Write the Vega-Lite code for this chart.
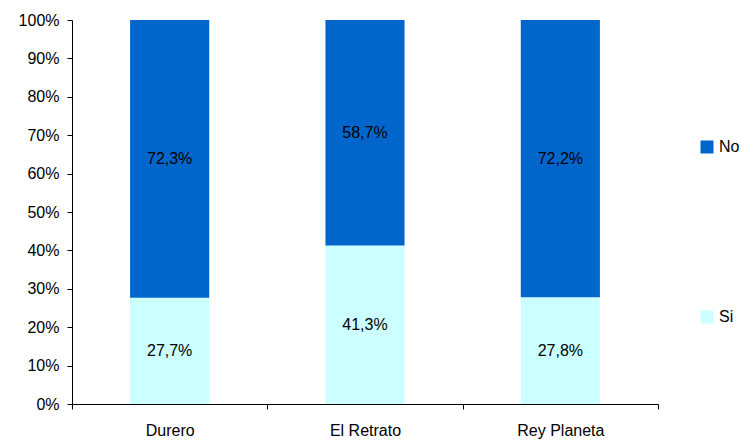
{
  "$schema": "https://vega.github.io/schema/vega-lite/v6.json",
  "width": 586,
  "height": 384,
  "autosize": "none",
  "padding": {"left": 72, "top": 20, "right": 81, "bottom": 39},
  "background": "white",
  "config": {
    "view": {"stroke": null},
    "font": "Liberation Sans",
    "locale": {
      "number": {"decimal": ",", "thousands": ".", "grouping": [3], "currency": ["", " €"]}
    }
  },
  "data": {
    "values": [
      {"obra": "Durero", "resp": "Si", "v": 0.277},
      {"obra": "Durero", "resp": "No", "v": 0.723},
      {"obra": "El Retrato", "resp": "Si", "v": 0.413},
      {"obra": "El Retrato", "resp": "No", "v": 0.587},
      {"obra": "Rey Planeta", "resp": "Si", "v": 0.278},
      {"obra": "Rey Planeta", "resp": "No", "v": 0.722}
    ]
  },
  "encoding": {
    "x": {
      "field": "obra",
      "type": "nominal",
      "sort": ["Durero", "El Retrato", "Rey Planeta"],
      "scale": {"paddingInner": 0, "paddingOuter": 0},
      "axis": {
        "title": null,
        "labelAngle": 0,
        "tickBand": "extent",
        "domainColor": "black",
        "tickColor": "black",
        "tickSize": 5,
        "labelFontSize": 16,
        "labelColor": "black",
        "labelPadding": 13
      }
    }
  },
  "layer": [
    {
      "mark": {"type": "bar", "width": {"band": 0.405}},
      "encoding": {
        "y": {
          "field": "v",
          "type": "quantitative",
          "stack": "zero",
          "scale": {"domain": [0, 1]},
          "axis": {
            "title": null,
            "format": ".0%",
            "values": [0, 0.1, 0.2, 0.3, 0.4, 0.5, 0.6, 0.7, 0.8, 0.9, 1],
            "labelOverlap": false,
            "grid": false,
            "domainColor": "black",
            "tickColor": "black",
            "tickSize": 5,
            "labelFontSize": 16,
            "labelColor": "black",
            "labelPadding": 8
          }
        },
        "color": {
          "field": "resp",
          "type": "nominal",
          "scale": {"domain": ["No", "Si"], "range": ["#0066CC", "#CCFFFF"]},
          "legend": {
            "title": null,
            "orient": "none",
            "legendX": 627,
            "legendY": 119,
            "padding": 0,
            "symbolType": "square",
            "symbolSize": 169,
            "symbolStrokeWidth": 0,
            "labelFontSize": 16,
            "labelColor": "black",
            "labelOffset": 4,
            "rowPadding": 154
          }
        },
        "order": {"field": "resp", "sort": "descending"}
      }
    },
    {
      "transform": [
        {"stack": "v", "groupby": ["obra"], "sort": [{"field": "resp", "order": "descending"}], "as": ["y0", "y1"]},
        {"calculate": "(datum.y0 + datum.y1) / 2", "as": "mid"}
      ],
      "mark": {"type": "text", "fontSize": 16, "color": "black", "baseline": "middle", "align": "center"},
      "encoding": {
        "y": {
          "field": "mid",
          "type": "quantitative",
          "axis": {
            "title": null,
            "format": ".0%",
            "values": [0, 0.1, 0.2, 0.3, 0.4, 0.5, 0.6, 0.7, 0.8, 0.9, 1],
            "labelOverlap": false,
            "grid": false,
            "domainColor": "black",
            "tickColor": "black",
            "tickSize": 5,
            "labelFontSize": 16,
            "labelColor": "black",
            "labelPadding": 8
          }
        },
        "text": {"field": "v", "type": "quantitative", "format": ".1%"}
      }
    }
  ]
}
